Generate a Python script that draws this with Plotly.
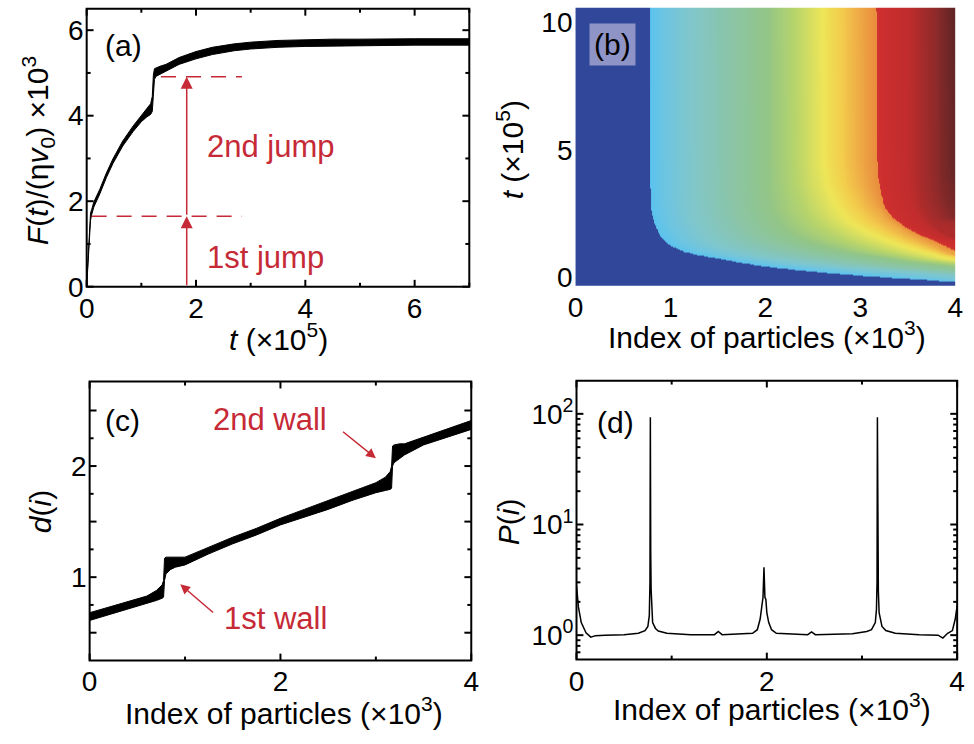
import math
import numpy as np
import plotly.graph_objects as go

# ---------------- data ----------------
# (a) force vs time: lower / upper edge of the noisy black band
A_T = [0, 0.015, 0.03, 0.05, 0.07, 0.09, 0.13, 0.24, 0.36, 0.48, 0.66, 0.85, 1.0, 1.1, 1.17, 1.2,
       1.22, 1.24, 1.27, 1.35, 1.45, 1.69, 2.0, 2.3, 2.7, 3.0, 3.5, 4.0, 4.5, 5.0, 5.5, 6.0, 6.5, 7.0]
A_LO = [0, 0.3, 0.8, 1.25, 1.55, 1.68, 1.86, 2.17, 2.55, 2.88, 3.29, 3.63, 3.86, 3.97, 4.03, 4.1,
        4.4, 4.85, 4.92, 4.98, 5.04, 5.2, 5.33, 5.43, 5.52, 5.56, 5.6, 5.62, 5.63, 5.64, 5.64, 5.65, 5.65, 5.65]
A_HI = [0.05, 0.45, 1.0, 1.45, 1.72, 1.8, 1.98, 2.28, 2.66, 2.99, 3.41, 3.76, 4.0, 4.18, 4.28, 4.45,
        4.95, 5.1, 5.12, 5.16, 5.2, 5.36, 5.5, 5.6, 5.68, 5.72, 5.76, 5.78, 5.79, 5.79, 5.8, 5.8, 5.8, 5.8]
JUMP1_Y = 1.65
JUMP2_Y = 4.91
ARROW_T = 1.83

# (b) space-time map. Each level (= particle index at late time, x10^3) has a
# contour line, given as (t values ascending, x positions).
CONTOURS = [
    (0.78, [-0.5, -0.2, -0.08, 0.04, 0.20, 0.40, 0.55, 0.72, 0.85, 0.98, 1.22, 1.45, 1.75, 2.1, 2.6, 3.5, 11],
           [4.6, 4.0, 3.5, 3.0, 2.5, 2.0, 1.75, 1.5, 1.3, 1.15, 1.0, 0.93, 0.87, 0.83, 0.80, 0.79, 0.78]),
    (1.2, [-0.5, 0.05, 0.2, 0.33, 0.5, 0.75, 0.95, 1.25, 1.6, 2.2, 3.0, 11],
          [5.0, 4.0, 3.5, 3.0, 2.5, 2.0, 1.75, 1.5, 1.35, 1.25, 1.21, 1.2]),
    (2.0, [-0.5, 0.38, 0.6, 0.88, 1.05, 1.3, 1.6, 2.0, 2.6, 3.5, 11],
          [6.0, 4.0, 3.5, 3.0, 2.75, 2.5, 2.3, 2.15, 2.05, 2.01, 2.0]),
    (2.65, [-0.5, 0.68, 1.0, 1.35, 1.65, 2.05, 2.35, 2.8, 3.6, 4.5, 11],
           [7.0, 4.0, 3.7, 3.4, 3.2, 3.0, 2.9, 2.8, 2.7, 2.66, 2.65]),
    (3.0, [-0.5, 0.85, 1.25, 1.7, 2.2, 2.8, 3.6, 4.5, 11],
          [8.0, 4.0, 3.75, 3.5, 3.3, 3.15, 3.05, 3.01, 3.0]),
    (3.17, [-0.5, 1.02, 1.3, 1.5, 1.7, 1.95, 2.3, 2.7, 3.2, 3.9, 5.0, 11],
           [9.0, 4.0, 3.85, 3.73, 3.6, 3.48, 3.35, 3.27, 3.22, 3.19, 3.175, 3.17]),
    (3.6, [-0.5, 1.5, 1.8, 2.1, 2.7, 3.6, 11],
          [10.0, 4.0, 3.85, 3.75, 3.65, 3.605, 3.6]),
    (3.85, [-0.5, 2.3, 3.0, 4.0, 11],
           [11.0, 4.0, 3.9, 3.855, 3.85]),
    (4.0, [-0.5, 2.3, 3.0, 4.0, 11],
          [13.0, 4.6, 4.2, 4.05, 4.0]),
]
B_COLORS = [
    (0.0, "#31479a"), (0.7799, "#31479a"), (0.78, "#5bc3ee"), (0.95, "#6fc5e0"), (1.2, "#80c6cc"),
    (1.6, "#8ac5aa"), (2.0, "#92c588"), (2.3, "#b6d46c"), (2.6, "#eee658"), (2.8, "#f3cc4c"),
    (3.0, "#eea845"), (3.1699, "#e98c3d"), (3.17, "#cf2f2f"), (3.5, "#c12c2c"), (3.8, "#8d2a2a"),
    (4.0, "#5c2424"),
]

# (c) d(i): lower / upper edge of the band
C_X = [0, 0.2, 0.4, 0.6, 0.7, 0.76, 0.775, 0.785, 0.8, 0.85, 0.9, 1.0, 1.25, 1.5, 1.75, 2.0, 2.25,
       2.5, 2.75, 3.0, 3.1, 3.15, 3.165, 3.175, 3.19, 3.25, 3.3, 3.5, 3.75, 4.0]
C_LO = [0.61, 0.66, 0.71, 0.76, 0.79, 0.81, 0.82, 0.97, 1.03, 1.07, 1.09, 1.11, 1.21, 1.3, 1.38, 1.47,
        1.54, 1.61, 1.69, 1.76, 1.78, 1.79, 1.80, 2.0, 2.03, 2.07, 2.1, 2.19, 2.26, 2.33]
C_HI = [0.68, 0.73, 0.78, 0.83, 0.88, 0.93, 0.97, 1.17, 1.18, 1.18, 1.18, 1.18, 1.27, 1.36, 1.44, 1.53,
        1.61, 1.69, 1.77, 1.85, 1.9, 1.95, 2.0, 2.18, 2.19, 2.2, 2.2, 2.26, 2.33, 2.41]

# (d) P(i)
D_X = [0, 0.02, 0.05, 0.1, 0.15, 0.2, 0.3, 0.5, 0.65, 0.72, 0.75, 0.765, 0.772, 0.776, 0.78, 0.784,
       0.79, 0.80, 0.83, 0.86, 0.95, 1.2, 1.45, 1.49, 1.53, 1.85, 1.9, 1.93, 1.95, 1.96, 1.97, 1.98,
       1.99, 2.0, 2.02, 2.05, 2.1, 2.43, 2.47, 2.51, 2.9, 3.05, 3.1, 3.14, 3.152, 3.158, 3.162,
       3.166, 3.172, 3.18, 3.21, 3.25, 3.35, 3.6, 3.8, 3.85, 3.9, 3.95, 3.98, 4.0]
D_P = [2.8, 1.8, 1.3, 1.05, 0.96, 0.99, 1.0, 1.01, 1.04, 1.1, 1.2, 1.5, 3.0, 93, 5.5, 2.6,
       1.6, 1.3, 1.15, 1.09, 1.04, 1.01, 1.01, 1.08, 1.01, 1.04, 1.12, 1.4, 1.9, 2.2, 4.1, 2.2,
       2.1, 1.6, 1.3, 1.12, 1.04, 1.01, 1.07, 1.01, 1.03, 1.08, 1.12, 1.3, 1.7, 3.0, 93,
       5.5, 2.5, 1.6, 1.2, 1.1, 1.04, 1.01, 1.0, 0.94, 1.04, 1.1, 1.4, 1.85]

# ticks: (all tick positions, labelled ones)
A_XTICKS, A_XLAB = [0, 1, 2, 3, 4, 5, 6, 7], [0, 2, 4, 6]
A_YTICKS, A_YLAB = [0, 1, 2, 3, 4, 5, 6], [0, 2, 4, 6]
B_XTICKS = [0, 1, 2, 3, 4]
B_YTICKS = [0, 5, 10]
C_XTICKS, C_XLAB = [0, 1, 2, 3, 4], [0, 2, 4]
C_YTICKS, C_YLAB = [0.5, 0.75, 1, 1.25, 1.5, 1.75, 2, 2.25, 2.5], [1, 2]
C_YMAJOR = [0.5, 1, 1.5, 2, 2.5]
D_XTICKS, D_XLAB = [0, 1, 2, 3, 4], [0, 2, 4]
D_YTICKS = [0.6, 0.7, 0.8, 0.9, 1, 2, 3, 4, 5, 6, 7, 8, 9, 10, 20, 30, 40, 50, 60, 70, 80, 90, 100, 200]
D_YLAB = {1: "10<sup>0</sup>", 10: "10<sup>1</sup>", 100: "10<sup>2</sup>"}

# ---------------- figure ----------------
W, H = 974, 744
RED = "#c62a36"
FONT = "Liberation Sans, Arial, sans-serif"
TICKFS = 28
TITLEFS = 30
ANNFS = 31
LW = 2

# panel boxes in pixels: left, right, top, bottom
BOX_A = (80, 469, 9, 293)
BOX_B = (577, 963, 8, 292)
BOX_C = (83, 471, 390, 675)
BOX_D = (578, 965, 389, 674)


def px(x, y):
    return x / W, 1 - y / H


def dom(box):
    l, r, t, b = box
    return [l / W, r / W], [1 - b / H, 1 - t / H]


fig = go.Figure()

# (a)
fig.add_trace(go.Scatter(x=A_T, y=A_LO, mode="lines", line=dict(color="black", width=1),
                         xaxis="x", yaxis="y", showlegend=False, hoverinfo="skip"))
fig.add_trace(go.Scatter(x=A_T, y=A_HI, mode="lines", line=dict(color="black", width=1),
                         fill="tonexty", fillcolor="black",
                         xaxis="x", yaxis="y", showlegend=False, hoverinfo="skip"))

# (b) colour table built from the contour lines
X_GRID = np.round(np.arange(0, 4.0001, 0.01), 3)
T_GRID = np.round(np.concatenate([np.arange(-0.4, 4.0, 0.015), np.arange(4.0, 10.8, 0.1)]), 3)
LEVELS = [c[0] for c in CONTOURS]
Z = np.zeros((len(T_GRID), len(X_GRID)))
for i, tv in enumerate(T_GRID):
    xs = [float(np.interp(tv, ct, cx)) for _, ct, cx in CONTOURS]
    row = np.interp(X_GRID, xs, LEVELS)
    row[X_GRID < xs[0]] = 0.0
    Z[i, :] = row
Z = np.round(Z, 3)
cscale = [[v / 4.0, c] for v, c in B_COLORS]
fig.add_trace(go.Heatmap(x=X_GRID, y=T_GRID, z=Z, colorscale=cscale, zmin=0, zmax=4,
                         showscale=False, xaxis="x2", yaxis="y2", hoverinfo="skip"))

# (c)
fig.add_trace(go.Scatter(x=C_X, y=C_LO, mode="lines", line=dict(color="black", width=1),
                         xaxis="x3", yaxis="y3", showlegend=False, hoverinfo="skip"))
fig.add_trace(go.Scatter(x=C_X, y=C_HI, mode="lines", line=dict(color="black", width=1),
                         fill="tonexty", fillcolor="black",
                         xaxis="x3", yaxis="y3", showlegend=False, hoverinfo="skip"))

# (d)
fig.add_trace(go.Scatter(x=D_X, y=D_P, mode="lines", line=dict(color="black", width=1.5),
                         xaxis="x4", yaxis="y4", showlegend=False, hoverinfo="skip"))


def axis(domain, rng, tickvals, ticktext, anchor, **kw):
    d = dict(domain=domain, range=rng, anchor=anchor, showline=False, ticks="",
             showgrid=False, zeroline=False, tickmode="array", tickvals=tickvals, ticktext=ticktext,
             tickfont=dict(family=FONT, size=TICKFS, color="black"), ticklabelstandoff=2)
    d.update(kw)
    return d


AX = {}
AX["a"] = (dom(BOX_A), [0, 7], [0, 6.5])
AX["b"] = (dom(BOX_B), [0, 4], [-0.35, 10.58])
AX["c"] = (dom(BOX_C), [0, 4], [0.25, 2.76])
AX["d"] = (dom(BOX_D), [0, 4], [-0.22, 2.3])

layout = dict(
    width=W, height=H, margin=dict(l=0, r=0, t=0, b=0, pad=0),
    paper_bgcolor="white", plot_bgcolor="white", showlegend=False,
    font=dict(family=FONT, color="black"),
    xaxis=axis(AX["a"][0][0], AX["a"][1], A_XTICKS, [f"{v:g}" if v in A_XLAB else "" for v in A_XTICKS], "y"),
    yaxis=axis(AX["a"][0][1], AX["a"][2], A_YTICKS, [f"{v:g}" if v in A_YLAB else "" for v in A_YTICKS], "x"),
    xaxis2=axis(AX["b"][0][0], AX["b"][1], B_XTICKS, [f"{v:g}" for v in B_XTICKS], "y2"),
    yaxis2=axis(AX["b"][0][1], AX["b"][2], B_YTICKS, [f"{v:g}" for v in B_YTICKS], "x2"),
    xaxis3=axis(AX["c"][0][0], AX["c"][1], C_XTICKS, [f"{v:g}" if v in C_XLAB else "" for v in C_XTICKS], "y3"),
    yaxis3=axis(AX["c"][0][1], AX["c"][2], C_YTICKS, [f"{v:g}" if v in C_YLAB else "" for v in C_YTICKS], "x3"),
    xaxis4=axis(AX["d"][0][0], AX["d"][1], D_XTICKS, [f"{v:g}" if v in D_XLAB else "" for v in D_XTICKS], "y4"),
    yaxis4=axis(AX["d"][0][1], AX["d"][2], D_YTICKS, [D_YLAB.get(v, "") for v in D_YTICKS], "x4", type="log"),
)
fig.update_layout(**layout)

# frames and inside ticks (both sides), in paper coordinates, from the tick lists
shapes = []


def frame(key, box, xt, xmaj, yt, ymaj, ylog=False):
    (dx, dy), xr, yr = AX[key]
    l, r, t, b = box
    wpx, hpx = r - l, b - t
    ln = dict(color="black", width=LW)
    pk = dict(xref="paper", yref="paper", line=ln, layer="above")
    shapes.append(dict(type="rect", x0=dx[0], x1=dx[1], y0=dy[0], y1=dy[1],
                       fillcolor="rgba(0,0,0,0)", **pk))
    for v in xt:
        f = (v - xr[0]) / (xr[1] - xr[0])
        xp = dx[0] + f * (dx[1] - dx[0])
        L = (7 if v in xmaj else 4) / H
        shapes.append(dict(type="line", x0=xp, x1=xp, y0=dy[0], y1=dy[0] + L, **pk))
        shapes.append(dict(type="line", x0=xp, x1=xp, y0=dy[1], y1=dy[1] - L, **pk))
    for v in yt:
        vv = math.log10(v) if ylog else v
        f = (vv - yr[0]) / (yr[1] - yr[0])
        if f < 0 or f > 1:
            continue
        yp = dy[0] + f * (dy[1] - dy[0])
        L = (7 if v in ymaj else 4) / W
        shapes.append(dict(type="line", x0=dx[0], x1=dx[0] + L, y0=yp, y1=yp, **pk))
        shapes.append(dict(type="line", x0=dx[1], x1=dx[1] - L, y0=yp, y1=yp, **pk))


frame("a", BOX_A, A_XTICKS, A_XLAB, A_YTICKS, A_YLAB)
frame("c", BOX_C, C_XTICKS, C_XLAB, C_YTICKS, C_YMAJOR)
frame("d", BOX_D, D_XTICKS, D_XLAB, D_YTICKS, [1, 10, 100], ylog=True)

# dashed guide lines in (a)
for x0, x1, yv in [(0.09, 2.84, JUMP1_Y), (1.36, 2.84, JUMP2_Y)]:
    shapes.append(dict(type="line", xref="x", yref="y", x0=x0, x1=x1, y0=yv, y1=yv,
                       line=dict(color=RED, width=1.5, dash="15px,10px")))
fig.update_layout(shapes=shapes)

ann = []
for y0, y1 in [(0, JUMP1_Y), (JUMP1_Y, JUMP2_Y)]:
    ann.append(dict(x=ARROW_T, y=y1, ax=ARROW_T, ay=y0, xref="x", yref="y", axref="x", ayref="y",
                    text="", showarrow=True, arrowhead=2, arrowsize=1.6, arrowwidth=1.5, arrowcolor=RED))
ann.append(dict(x=2.16, y=3.27, xref="x", yref="y", text="2nd jump", showarrow=False, xanchor="left",
                yanchor="middle", font=dict(family=FONT, size=ANNFS, color=RED)))
ann.append(dict(x=2.16, y=0.69, xref="x", yref="y", text="1st jump", showarrow=False, xanchor="left",
                yanchor="middle", font=dict(family=FONT, size=ANNFS, color=RED)))
ann.append(dict(x=3.0, y=2.07, ax=2.64, ay=2.32, xref="x3", yref="y3", axref="x3", ayref="y3",
                text="", showarrow=True, arrowhead=2, arrowsize=1.3, arrowwidth=1.5, arrowcolor=RED))
ann.append(dict(x=0.95, y=0.935, ax=1.31, ay=0.67, xref="x3", yref="y3", axref="x3", ayref="y3",
                text="", showarrow=True, arrowhead=2, arrowsize=1.3, arrowwidth=1.5, arrowcolor=RED))
ann.append(dict(x=1.89, y=2.42, xref="x3", yref="y3", text="2nd wall", showarrow=False,
                font=dict(family=FONT, size=ANNFS, color=RED)))
ann.append(dict(x=1.95, y=0.63, xref="x3", yref="y3", text="1st wall", showarrow=False,
                font=dict(family=FONT, size=ANNFS, color=RED)))

for text, (xp, yp) in [("(a)", (97, 47)), ("(c)", (97, 430)), ("(d)", (597, 432))]:
    x_, y_ = px(xp, yp)
    ann.append(dict(x=x_, y=y_, xref="paper", yref="paper", text=text, showarrow=False, xanchor="left",
                    yanchor="middle", font=dict(family=FONT, size=TITLEFS, color="black")))
x_, y_ = px(615, 45)
ann.append(dict(x=x_, y=y_, xref="paper", yref="paper", text="(b)", showarrow=False, xanchor="center",
                yanchor="middle", bgcolor="#8f94c6", borderpad=4,
                font=dict(family=FONT, size=TITLEFS, color="black")))

TITLES = [
    ("<i>F</i>(<i>t</i>)/(η<i>v</i><sub>0</sub>) ×10<sup>3</sup>", (30, 154), -90),
    ("<i>t</i> (×10<sup>5</sup>)", (275, 344), 0),
    ("<i>t</i> (×10<sup>5</sup>)", (510, 153), -90),
    ("Index of particles (×10<sup>3</sup>)", (772, 342), 0),
    ("<i>d</i>(<i>i</i>)", (33, 523), -90),
    ("Index of particles (×10<sup>3</sup>)", (281, 727), 0),
    ("<i>P</i>(<i>i</i>)", (509, 533), -90),
    ("Index of particles (×10<sup>3</sup>)", (777, 723), 0),
]
for txt, (xp, yp), ang in TITLES:
    x_, y_ = px(xp, yp)
    ann.append(dict(x=x_, y=y_, xref="paper", yref="paper", text=txt, showarrow=False, textangle=ang,
                    xanchor="center", yanchor="middle",
                    font=dict(family=FONT, size=TITLEFS, color="black")))

fig.update_layout(annotations=ann)
fig.write_html("out.html", config={"displayModeBar": False})
